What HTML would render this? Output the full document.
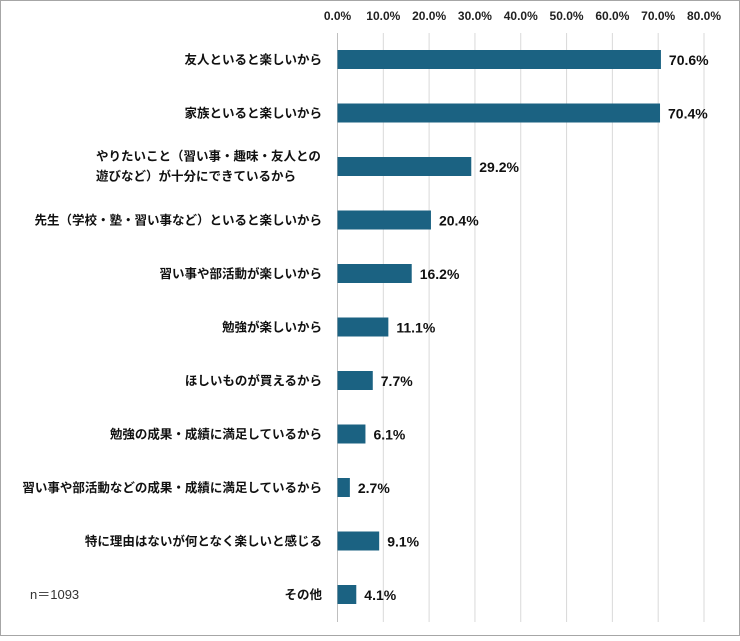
<!DOCTYPE html>
<html><head><meta charset="utf-8"><style>
body{margin:0;background:#fff;}
svg text{font-family:"Liberation Sans","Noto Sans CJK JP",sans-serif;}
</style></head><body>
<svg width="740" height="636" xmlns="http://www.w3.org/2000/svg">
<rect x="0.5" y="0.5" width="739" height="635" fill="#fff" stroke="#a6a6a6"/>
<g id="grid"></g><g id="bars"></g>
<text x="30" y="599" font-size="13" fill="#333">n＝1093</text>
</svg>
<script>
const categories=["友人といると楽しいから","家族といると楽しいから",["やりたいこと（習い事・趣味・友人との","遊びなど）が十分にできているから"],"先生（学校・塾・習い事など）といると楽しいから","習い事や部活動が楽しいから","勉強が楽しいから","ほしいものが買えるから","勉強の成果・成績に満足しているから","習い事や部活動などの成果・成績に満足しているから","特に理由はないが何となく楽しいと感じる","その他"];
const values=[70.6,70.4,29.2,20.4,16.2,11.1,7.7,6.1,2.7,9.1,4.1];
const ticks=[0,10,20,30,40,50,60,70,80];
const NS="http://www.w3.org/2000/svg";
const x0=337.5,pxPer=(704-337.5)/80;
const xs=v=>x0+v*pxPer;
const yc=i=>59.5+53.5*i;
const grid=document.getElementById('grid'),bars=document.getElementById('bars');
function mk(tag,attrs,parent){const e=document.createElementNS(NS,tag);for(const k in attrs)e.setAttribute(k,attrs[k]);parent.appendChild(e);return e;}
ticks.forEach(t=>{
 const l=mk('line',{x1:xs(t),x2:xs(t),y1:33,y2:622,stroke:t===0?'#bfbfbf':'#d9d9d9','stroke-width':1},grid);
 
 
 const tx=mk('text',{x:xs(t),y:20,'font-size':12,'font-weight':'bold','text-anchor':'middle',fill:'#222'},grid);
 tx.textContent=t.toFixed(1)+'%';
 
 
});
categories.forEach((c,i)=>{
 const y=yc(i);
 const r=mk('rect',{x:x0,y:y-9.5,width:xs(values[i])-x0,height:19,fill:'#1b6282'},bars);
 
 
 const v=mk('text',{x:xs(values[i])+8,y:y+5.5,'font-size':14,'font-weight':'bold',fill:'#111'},bars);
 v.textContent=values[i].toFixed(1)+'%';
 
 
 const t=mk('text',{x:322,'font-size':12.5,'font-weight':'bold','text-anchor':'end',fill:'#111'},bars);
 
 
 if(Array.isArray(c)){
  t.setAttribute('text-anchor','start');t.setAttribute('x',96);
  c.forEach((s,j)=>{const ts=mk('tspan',{x:96,y:y-6+j*20},t);ts.textContent=s;});
 } else {t.setAttribute('y',y+4.5);t.textContent=c;}
});
</script>
</body></html>
